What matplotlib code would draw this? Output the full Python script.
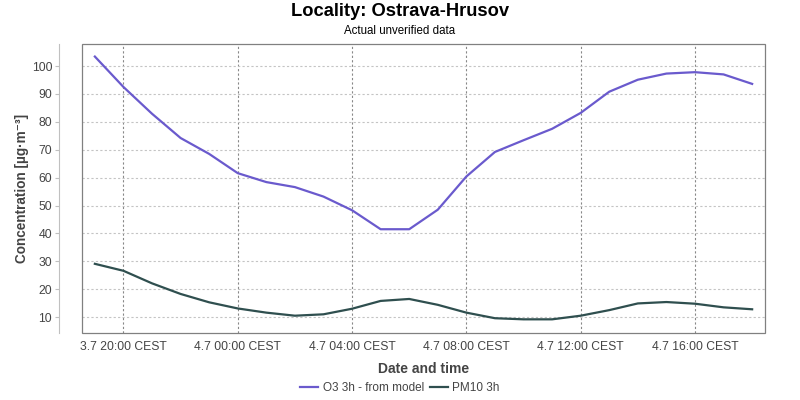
import matplotlib
matplotlib.use("Agg")
import matplotlib.pyplot as plt
import matplotlib.dates as mdates
from matplotlib.patches import Rectangle
import pandas as pd

plt.rcParams['font.family'] = ['Liberation Sans', 'DejaVu Sans']

# hourly timestamps, 3.7 19:00 .. 4.7 18:00
times = pd.date_range("2023-07-03 19:00", "2023-07-04 18:00", freq="h")

o3 = [103.4, 92.5, 82.9, 74.2, 68.5, 61.6, 58.4, 56.6, 53.2, 48.3, 41.5, 41.5,
      48.5, 60.4, 69.2, 73.4, 77.5, 83.2, 90.8, 95.1, 97.3, 97.8, 97.0, 93.6]
pm10 = [29.1, 26.6, 22.1, 18.3, 15.3, 13.1, 11.6, 10.5, 11.0, 13.0, 15.8, 16.5,
        14.4, 11.6, 9.6, 9.2, 9.2, 10.5, 12.5, 14.9, 15.4, 14.8, 13.5, 12.8]

series_labels = ["O3 3h - from model", "PM10 3h"]
series_colors = ["#6a5acd", "#2f4f4f"]
yticks = list(range(10, 101, 10))

fig = plt.figure(figsize=(8, 4), dpi=100)
ax = fig.add_axes([82 / 800, 1 - 333 / 400, (765 - 82) / 800, (333 - 44) / 400])

ax.plot(times, o3, color=series_colors[0], lw=1.6, label=series_labels[0])
ax.plot(times, pm10, color=series_colors[1], lw=1.6, label=series_labels[1])

pad = pd.Timedelta(minutes=27)
ax.set_xlim(times[0] - pad, times[-1] + pad)
ax.set_ylim(4.3, 107.9)
ax.set_yticks(yticks)

ax.xaxis.set_major_locator(mdates.HourLocator(byhour=[0, 4, 8, 12, 16, 20]))
ax.xaxis.set_major_formatter(mdates.DateFormatter("%-d.%-m %H:%M CEST"))

# grid: vertical darker, horizontal lighter
ax.grid(axis='x', color='#888888', linestyle=(0, (2, 2)), lw=0.8)
ax.grid(axis='y', color='#c4c4c4', linestyle=(0, (2, 2)), lw=0.8)

for s in ['top', 'right', 'bottom']:
    ax.spines[s].set_visible(False)
ax.spines['left'].set_position(('outward', 16.5))  # 22 px
ax.spines['left'].set_color('#c0c0c0')
ax.add_patch(Rectangle((0, 0), 1, 1, transform=ax.transAxes, fill=False,
                       edgecolor='#808080', lw=0.9, clip_on=False, zorder=5))

ax.tick_params(axis='y', length=3, color='#c0c0c0', labelsize=8.8, labelcolor='#444444', pad=2)
ax.tick_params(axis='x', length=0, labelsize=8.7, labelcolor='#444444', pad=6)

ax.set_xlabel("Date and time", fontsize=10, fontweight='bold', color='#444444', labelpad=6)
ax.set_ylabel("Concentration [µg·m⁻³]", fontsize=9.8, fontweight='bold', color='#444444', labelpad=2)

fig.text(0.5, 1 - 12 / 400, "Locality: Ostrava-Hrusov", ha='center', va='center',
         fontsize=13.2, fontweight='bold')
fig.text(0.5, 1 - 31 / 400, "Actual unverified data", ha='center', va='center',
         fontsize=8.3)

fig.legend(loc='center', bbox_to_anchor=(0.5, 1 - 388 / 400), ncol=2, frameon=False,
           fontsize=8.5, handlelength=1.5, handletextpad=0.4, columnspacing=0.5,
           labelcolor='#444444')

fig.savefig("out.png", dpi=100)
